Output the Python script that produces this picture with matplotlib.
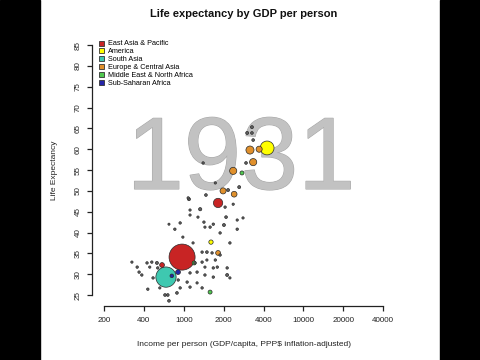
import numpy as np
import matplotlib
matplotlib.use("Agg")
import matplotlib.pyplot as plt
import matplotlib.patheffects as pe
from matplotlib.lines import Line2D

plt.rcParams['font.family'] = ['Liberation Sans', 'DejaVu Sans']

year = "1931"
regions = ["East Asia & Pacific", "America", "South Asia",
           "Europe & Central Asia", "Middle East & North Africa",
           "Sub-Saharan Africa"]
region_colors = ["#c82424", "#ffff00", "#3ec8b0", "#e0902c", "#50c850", "#2424a8"]
other_color = "#606060"

# income (GDP/capita), life expectancy, population (millions), region index (-1 = other)
income = [962, 665, 4340, 1815, 3160, 3705, 3340, 2360, 1980, 2400, 1815, 1605,
          2750, 1197, 1580, 877, 607, 760,
          3270, 3270, 3010, 3340, 2950, 2160, 2620, 1330, 1470, 1095, 1400, 2050,
          2360, 920, 815, 712, 1420, 1580, 1445, 1670, 2085, 2010, 2530, 2800,
          1115, 1280, 1880, 325, 356, 368, 386, 430, 480, 458, 494, 438, 540,
          980, 1175, 1375, 1495, 1635, 1880, 1730, 1495, 1375, 1215, 1790, 1670,
          1445, 1260, 1115, 1445, 1670, 2125, 1060, 1115, 1260, 1375, 880, 920,
          855, 693, 650, 712, 577, 2125, 2230, 550, 2230, 2530, 1730, 1080, 1115]
life_exp = [34.1, 29.3, 60.3, 47.1, 59.8, 60.0, 56.9, 54.8, 50.0, 49.2, 35.1, 37.7,
            54.3, 32.7, 25.7, 30.5, 32.2, 29.6,
            65.3, 63.9, 63.9, 62.2, 56.7, 50.2, 50.9, 45.6, 49.0, 48.0, 56.7, 46.1,
            46.8, 42.3, 40.8, 42.0, 42.5, 41.3, 41.3, 42.0, 43.7, 41.8, 40.8, 43.5,
            44.2, 43.7, 39.9, 32.9, 31.7, 30.5, 29.8, 32.7, 32.9, 31.7, 29.1, 26.4, 32.7,
            38.9, 37.5, 35.3, 35.3, 35.1, 34.6, 33.4, 33.4, 32.9, 32.7, 31.7, 31.5,
            31.7, 30.5, 30.3, 29.8, 29.3, 29.8, 28.1, 26.9, 27.9, 26.7, 28.6, 26.7,
            25.5, 25.0, 25.0, 23.6, 26.7, 31.5, 29.1, 31.5, 37.5, 43.0, 51.9, 48.3, 45.4]
population = [480, 290, 135, 60, 45, 25, 35, 35, 25, 22, 15, 12,
              10, 10, 10, 15, 15, 8,
              5, 4, 5, 4, 4, 5, 5, 6, 4, 5, 3, 3,
              2.5, 3, 3, 2, 3, 3, 2.5, 3, 4, 5, 3, 2.5,
              2.5, 2.5, 3, 2.5, 3, 3, 3, 3, 3, 2.5, 3, 3, 5,
              2.5, 2.5, 3, 4, 3, 3, 3, 2.5, 3, 3, 3, 3,
              2.5, 3, 3, 3, 3, 5, 3, 3, 2.5, 3, 3, 3,
              4, 4, 4, 4, 2.5, 3, 2.5, 3, 3, 2.5, 2.5, 3, 2.5]
region_idx = [0, 2, 1, 0, 3, 3, 3, 3, 3, 3, 3, 1,
              4, 4, 4, 5, 0, 5] + [-1] * 74

xticks = [200, 400, 1000, 2000, 4000, 10000, 20000, 40000]
yticks = list(range(25, 90, 5))

# x axis: ticks equally spaced, log interpolation in between
lt = np.log(xticks)
pos = np.arange(len(xticks), dtype=float)


def fwd(x):
    lx = np.log(np.clip(np.asarray(x, dtype=float), 1e-9, None))
    y = np.interp(lx, lt, pos)
    y = np.where(lx < lt[0], (lx - lt[0]) / (lt[1] - lt[0]), y)
    y = np.where(lx > lt[-1], pos[-1] + (lx - lt[-1]) / (lt[-1] - lt[-2]), y)
    return y


def inv(y):
    y = np.asarray(y, dtype=float)
    lx = np.interp(y, pos, lt)
    lx = np.where(y < 0, lt[0] + y * (lt[1] - lt[0]), lx)
    lx = np.where(y > pos[-1], lt[-1] + (y - pos[-1]) * (lt[-1] - lt[-2]), lx)
    return np.exp(lx)


W, H = 480, 360
fig = plt.figure(figsize=(4.8, 3.6), dpi=100)
fig.patch.set_facecolor("white")

# black side bands like the original video frame
fig.add_artist(plt.Rectangle((0, 0), 40 / W, 1, transform=fig.transFigure,
                             color="black", zorder=10))
fig.add_artist(plt.Rectangle((440 / W, 0), 40 / W, 1, transform=fig.transFigure,
                             color="black", zorder=10))

ax = fig.add_axes([96 / W, 1 - 300 / H, (392 - 96) / W, (300 - 38) / H])
ax.set_xscale("function", functions=(fwd, inv))
ax.set_xlim(inv(-0.2), inv(7.22))
ax.set_ylim(23.8, 86.7)

for s in ["top", "right"]:
    ax.spines[s].set_visible(False)
ax.spines["left"].set_position(("outward", 2.9))
ax.spines["bottom"].set_position(("outward", 4.3))
ax.spines["left"].set_bounds(25, 85)
ax.spines["bottom"].set_bounds(200, 40000)
for s in ["left", "bottom"]:
    ax.spines[s].set_linewidth(0.9)
    ax.spines[s].set_color("#222222")

ax.set_xticks(xticks)
ax.set_xticklabels([str(t) for t in xticks])
ax.xaxis.set_minor_locator(matplotlib.ticker.NullLocator())
ax.set_yticks(yticks)
ax.set_yticklabels([str(t) for t in yticks], rotation=90, va="center")
ax.tick_params(axis="both", length=3.6, width=0.9, color="#222222",
               labelsize=5.8, labelcolor="#222222")
ax.tick_params(axis="x", pad=4.6)
ax.tick_params(axis="y", pad=4)

ax.text(241 / W, 1 - 189 / H, year, transform=fig.transFigure, ha="center",
        va="baseline", fontsize=74, color="#c2c2c2", zorder=0,
        path_effects=[pe.withStroke(linewidth=0.8, foreground="#a8a8a8")])

order = np.argsort(population)[::-1]
x = np.array(income)[order]
y = np.array(life_exp)[order]
p = np.array(population)[order]
r = np.array(region_idx)[order]
cols = [region_colors[i] if i >= 0 else other_color for i in r]
ax.scatter(x, y, s=p * 0.73 + 1.0, c=cols, edgecolors="#2a2a2a", linewidths=0.5,
           zorder=3, clip_on=False)

handles = [Line2D([], [], marker="s", linestyle="none", markersize=3.6,
                  markerfacecolor=c, markeredgecolor="#333333", markeredgewidth=0.6)
           for c in region_colors]
ax.legend(handles, regions, loc="upper left", bbox_to_anchor=(98 / W, 1 - 40 / H),
          bbox_transform=fig.transFigure, frameon=False, fontsize=5.2,
          labelspacing=0.12, handlelength=0.8, handletextpad=0.6, borderpad=0,
          borderaxespad=0)

fig.text(244 / W, 1 - 14 / H, "Life expectancy by GDP per person", ha="center",
         va="center", fontsize=8, fontweight="bold", color="#111111")
fig.text(244 / W, 1 - 345 / H, "Income per person (GDP/capita, PPP$ inflation-adjusted)",
         ha="center", va="center", fontsize=6, color="#222222")
fig.text(55 / W, 1 - 170 / H, "Life Expectancy", ha="center", va="center",
         rotation=90, fontsize=6, color="#222222")

fig.savefig("out.png", dpi=100)
